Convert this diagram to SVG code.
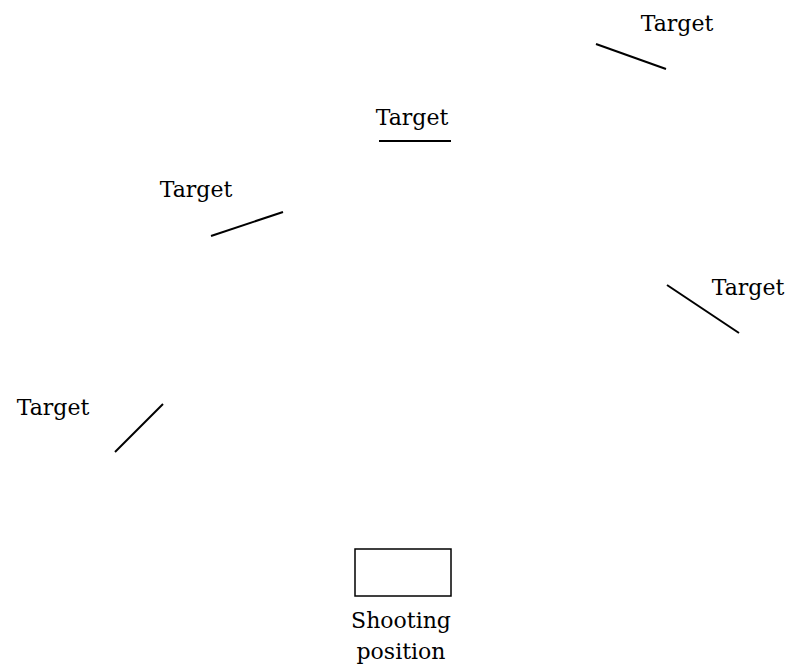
<svg xmlns="http://www.w3.org/2000/svg" width="790" height="668" viewBox="0 0 790 668">
<style>
.lbl{font-family:"DejaVu Serif","Liberation Serif",serif;font-size:22px;fill:#000;text-anchor:middle}
.tg{stroke:#000;stroke-width:2;fill:none}
</style>
<rect width="790" height="668" fill="#fff"/>
<g id="connectors">
<line class="tg" x1="596" y1="44" x2="666" y2="69"/>
<line class="tg" x1="379" y1="141" x2="451" y2="141"/>
<line class="tg" x1="211" y1="236" x2="283" y2="212"/>
<line class="tg" x1="667" y1="285" x2="739" y2="333"/>
<line class="tg" x1="115" y1="452" x2="163" y2="404"/>
</g>
<g id="target1"><text class="lbl" x="677" y="31">Target</text></g>
<g id="target2"><text class="lbl" x="412" y="125">Target</text></g>
<g id="target3"><text class="lbl" x="196" y="197">Target</text></g>
<g id="target4"><text class="lbl" x="748" y="295">Target</text></g>
<g id="target5"><text class="lbl" x="53" y="415">Target</text></g>
<g id="shooting">
<rect x="355" y="549" width="96" height="47" fill="none" stroke="#000" stroke-width="1.5"/>
<text class="lbl" x="401" y="628">Shooting</text>
<text class="lbl" x="401" y="659">position</text>
</g>
</svg>
